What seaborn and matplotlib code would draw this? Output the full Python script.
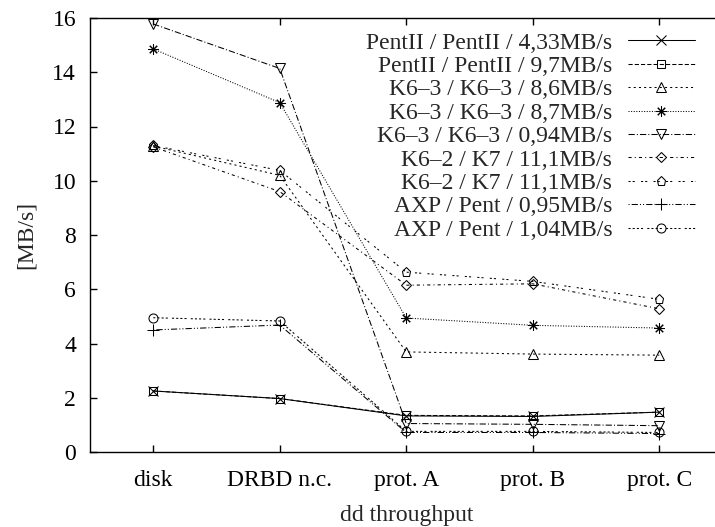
import numpy as np
import pandas as pd
import matplotlib
matplotlib.use("Agg")
import matplotlib.pyplot as plt
import seaborn as sns

phases = ["disk", "DRBD n.c.", "prot. A", "prot. B", "prot. C"]
labels = [
    "PentII / PentII / 4,33MB/s",
    "PentII / PentII / 9,7MB/s",
    "K6\u20133 / K6\u20133 / 8,6MB/s",
    "K6\u20133 / K6\u20133 / 8,7MB/s",
    "K6\u20133 / K6\u20133 / 0,94MB/s",
    "K6\u20132 / K7 / 11,1MB/s",
    "K6\u20132 / K7 / 11,1MB/s",
    "AXP / Pent / 0,95MB/s",
    "AXP / Pent / 1,04MB/s",
]
pent_433 = [2.25, 1.97, 1.33, 1.31, 1.47]
pent_97 = [2.25, 1.97, 1.35, 1.33, 1.47]
k63_86 = [11.28, 10.20, 3.69, 3.61, 3.57]
k63_87 = [14.86, 12.88, 4.94, 4.67, 4.57]
k63_094 = [15.78, 14.14, 1.05, 1.02, 0.97]
k62_k7_a = [11.25, 9.60, 6.15, 6.20, 5.28]
k62_k7_b = [11.30, 10.38, 6.63, 6.29, 5.63]
axp_095 = [4.50, 4.68, 0.72, 0.72, 0.68]
axp_104 = [4.95, 4.83, 0.76, 0.76, 0.72]
series_values = [pent_433, pent_97, k63_86, k63_87, k63_094,
                 k62_k7_a, k62_k7_b, axp_095, axp_104]

u = 0.75
dash_patterns = [
    None,
    [4, 2],
    [2, 3],
    [1, 1.5],
    [6, 2, 1, 2],
    [3, 3, 1, 3],
    [2, 2, 2, 6],
    [1, 2, 6, 2, 1, 2],
    [2, 2, 2, 2, 2, 2, 2, 4],
]
markers = ["x", "s", "^", (8, 2, 0), "v", "D", "p", "+", "o"]
msizes = [7, 6, 6.5, 7.5, 6.5, 5, 6.5, 8, 6.5]

sns.set_style("ticks")
plt.rcParams["font.family"] = ["Liberation Serif", "DejaVu Serif"]
plt.rcParams["lines.scale_dashes"] = False

fig = plt.figure(figsize=(7.15, 5.27), dpi=100)
W, H = 715.0, 527.0
left_px, right_px, top_px, bot_px = 90.0, 722.5, 18.0, 452.0
ax = fig.add_axes([left_px / W, (H - bot_px) / H,
                   (right_px - left_px) / W, (bot_px - top_px) / H])

for lab, vals, dp, mk, ms in zip(labels, series_values, dash_patterns, markers, msizes):
    ls = "-" if dp is None else (0, [d * u for d in dp])
    sns.lineplot(x=phases, y=vals, ax=ax, color="black", linestyle=ls,
                 linewidth=0.75, marker=mk, markersize=ms,
                 markerfacecolor="none", markeredgecolor="black",
                 markeredgewidth=0.75, errorbar=None, sort=False, label=lab,
                 legend=False)

ax.set_xlim(-0.5, 4.5)
ax.set_ylim(0, 16)
ax.set_yticks(np.arange(0, 17, 2))
ax.tick_params(axis="both", which="both", direction="in", length=5, width=1,
               labelsize=17, top=True, right=True, colors="black")
ax.tick_params(axis="x", pad=13)
ax.tick_params(axis="y", pad=10)
for sp in ax.spines.values():
    sp.set_visible(True)
    sp.set_linewidth(1.0)
    sp.set_color("black")

ax.set_xlabel("dd throughput", fontsize=17)
ax.set_ylabel("[MB/s]", fontsize=17)
ax.xaxis.set_label_coords(0.5, -0.121)
ax.yaxis.set_label_coords(-0.084, 0.5)

handles = ax.lines[:len(labels)]
leg = ax.legend(handles, labels, loc="upper right", markerfirst=False,
                frameon=False, fontsize=17, handlelength=2.85,
                handletextpad=0.65, labelspacing=0.08, borderpad=0,
                borderaxespad=0, bbox_to_anchor=(695 / W, (H - 32) / H),
                bbox_transform=fig.transFigure)

fig.savefig("out.png", dpi=100)
